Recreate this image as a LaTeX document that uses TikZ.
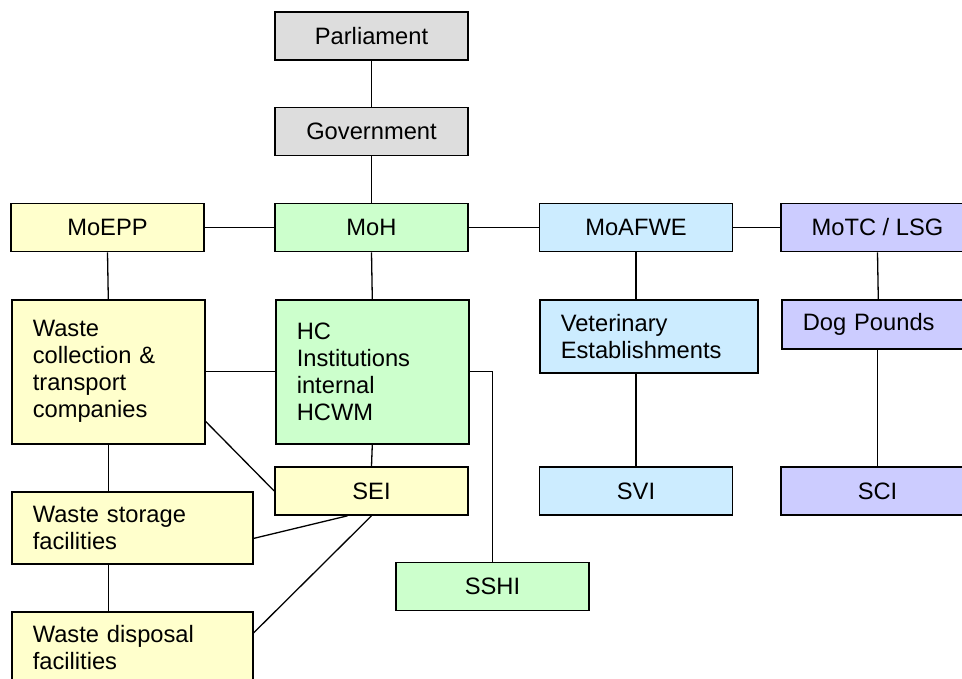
\documentclass[tikz,border=0pt]{standalone}
\usepackage{fontspec}
\setmainfont{Liberation Sans}
\usepackage{tikz}
\usetikzlibrary{positioning, calc}
\definecolor{hdrgray}{RGB}{221,221,221}
\definecolor{hdryellow}{RGB}{255,255,204}
\definecolor{hdrgreen}{RGB}{204,255,204}
\definecolor{hdrblue}{RGB}{204,236,255}
\definecolor{hdrpurple}{RGB}{204,204,255}
\newcommand{\orgfont}{\fontsize{23.7}{27}\selectfont}
\tikzset{
  orgbox/.style={rectangle, draw=black, line width=1.6pt,
    minimum width=193pt, minimum height=48pt, inner sep=0pt, font=\orgfont},
  wrapbox/.style={rectangle, draw=black, line width=1.6pt, anchor=north west,
    align=left, inner xsep=21pt, inner ysep=0pt, font=\orgfont},
  line/.style={line width=1.3pt, color=black}
}
\begin{document}
\begin{tikzpicture}[x=1pt, y=-1pt]
  \clip (0,0) rectangle (962,678);
  % Top of the hierarchy
  \node[orgbox, fill=hdrgray] (parl) at (371.5,36) {Parliament};
  \node[orgbox, fill=hdrgray] (gov) at (371.5,131.5) {Government};
  % Ministries
  \node[orgbox, fill=hdryellow] (moepp) at (107.5,227.5) {MoEPP};
  \node[orgbox, fill=hdrgreen] (moh) at (371.5,227.5) {MoH};
  \node[orgbox, fill=hdrblue] (moafwe) at (636,227.5) {MoAFWE};
  \node[orgbox, fill=hdrpurple] (motc) at (877.5,227.5) {MoTC / LSG};
  % Second level
  \node[wrapbox, fill=hdryellow, text width=151pt, minimum height=144pt] (wcoll) at (11,299)
    {Waste\\collection \&\\transport\\companies};
  \node[wrapbox, fill=hdrgreen, text width=151pt, minimum height=144pt] (hc) at (275,299)
    {HC\\Institutions\\internal\\HCWM};
  \node[wrapbox, fill=hdrblue, text width=176pt, minimum height=73pt] (vet) at (539,299)
    {Veterinary\\Establishments};
  \node[wrapbox, fill=hdrpurple, text width=151pt, minimum height=49pt] (dog) at (781,299)
    {Dog Pounds};
  % Inspectorates
  \node[orgbox, fill=hdryellow] (sei) at (371.5,491) {SEI};
  \node[orgbox, fill=hdrblue] (svi) at (636,491) {SVI};
  \node[orgbox, fill=hdrpurple] (sci) at (877.5,491) {SCI};
  \node[orgbox, fill=hdrgreen] (sshi) at (492.5,586.5) {SSHI};
  % Waste facilities
  \node[wrapbox, fill=hdryellow, text width=199pt, minimum height=72pt] (wstor) at (11,491)
    {Waste storage\\facilities};
  \node[wrapbox, fill=hdryellow, text width=199pt, minimum height=72pt] (wdisp) at (11,611)
    {Waste disposal\\facilities};
  % Connectors
  \draw[line] (parl.south) -- (gov.north);
  \draw[line] (gov.south) -- (moh.north);
  \draw[line] (moepp.east) -- (moh.west);
  \draw[line] (moh.east) -- (moafwe.west);
  \draw[line] (moafwe.east) -- (motc.west);
  \draw[line] (moepp.south) -- (wcoll.north);
  \draw[line] (moh.south) -- (hc.north);
  \draw[line] (moafwe.south) -- (moafwe.south |- vet.north);
  \draw[line] (motc.south) -- (dog.north);
  \draw[line] (wcoll.east) -- (hc.west);
  \draw[line] (hc.east) -| (sshi.north);
  \draw[line] (hc.south) -- (sei.north);
  \draw[line] (svi.north |- vet.south) -- (svi.north);
  \draw[line] (motc.south |- dog.south) -- (sci.north);
  \draw[line] (wcoll.south) -- (wcoll.south |- wstor.north);
  \draw[line] (wcoll.south |- wstor.south) -- (wcoll.south |- wdisp.north);
  \draw[line] (wcoll.-27) -- (sei.west);
  \draw[line] (sei.-134) -- (wstor.-5);
  \draw[line] (sei.south) -- (wdisp.7);
\end{tikzpicture}
\end{document}
